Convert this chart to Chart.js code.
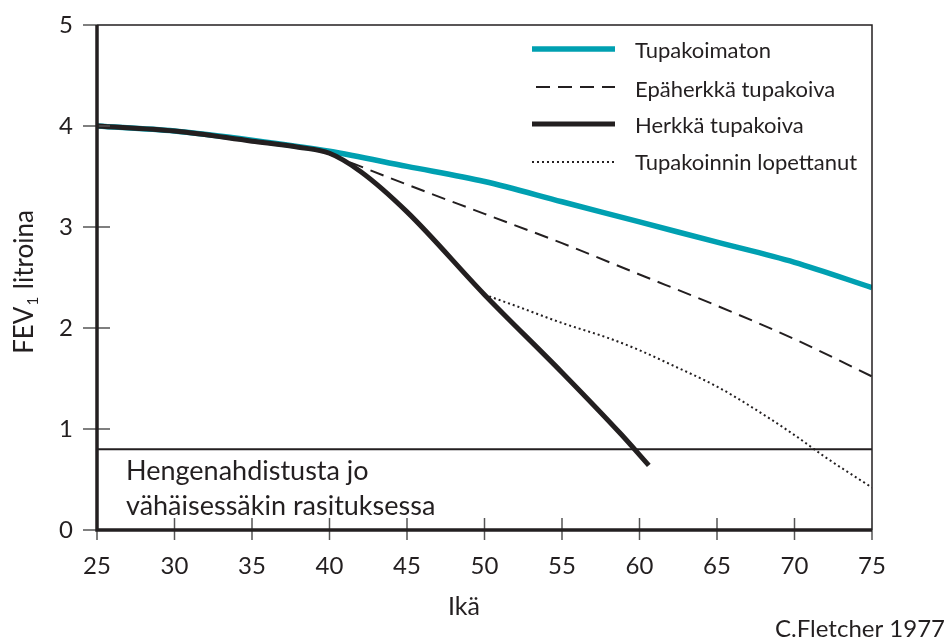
<!DOCTYPE html>
<html><head><meta charset="utf-8">
<script src="https://cdn.jsdelivr.net/npm/chart.js@4"></script>
<style>html,body{margin:0;padding:0;background:#fff}#c{display:block}</style>
</head><body>
<canvas id="c" width="950" height="644"></canvas>
<script>
const seriesNames = ["Tupakoimaton","Epäherkkä tupakoiva","Herkkä tupakoiva","Tupakoinnin lopettanut"];
const agesNever = [25,30,35,40,45,50,55,60,65,70,75];
const fevNever  = [4.0,3.95,3.86,3.75,3.6,3.45,3.25,3.05,2.85,2.65,2.4];
const agesInsens = [40,45,50,55,60,65,70,75];
const fevInsens  = [3.72,3.42,3.13,2.84,2.53,2.22,1.89,1.52];
const agesSens = [25,30,35,38,40,42,45,50,55,58.8,60.6];
const fevSens  = [4.0,3.95,3.85,3.79,3.73,3.55,3.15,2.33,1.56,0.95,0.64];
const agesQuit = [50,52,55,58,60,62,65,67,70,72,75];
const fevQuit  = [2.33,2.22,2.05,1.9,1.78,1.64,1.42,1.24,0.94,0.72,0.42];
const threshold = 0.8;
const xTicks = [25,30,35,40,45,50,55,60,65,70,75];
const yTicks = [0,1,2,3,4,5];
const thresholdText = ["Hengenahdistusta jo","vähäisessäkin rasituksessa"];
const xTitle = "Ikä", yTitleParts = ["FEV","1"," litroina"], credit = "C.Fletcher 1977";

const INK = "#231f20", TEAL = "#00a0b1";
const FONT = "Lato, 'Open Sans', sans-serif";
const pts = (xs, ys) => xs.map((x,i)=>({x, y: ys[i]}));

const styles = [
  {color:TEAL, width:5.5, dash:[]},
  {color:INK, width:2, dash:[14,8]},
  {color:INK, width:5, dash:[]},
  {color:INK, width:2, dash:[2,3]}
];

const overlay = {
  id:'overlay',
  afterDatasetsDraw(chart){
    const {ctx, chartArea:a, scales:{x, y}} = chart;
    ctx.save();
    ctx.strokeStyle = INK; ctx.lineWidth = 1.5;
    ctx.beginPath(); ctx.moveTo(a.left, a.top); ctx.lineTo(a.right, a.top); ctx.lineTo(a.right, a.bottom); ctx.stroke();
    ctx.strokeStyle = "#555"; ctx.lineWidth = 1.5;
    yTicks.forEach(v=>{ const py = y.getPixelForValue(v); ctx.beginPath(); ctx.moveTo(a.left-14, py); ctx.lineTo(a.left+13, py); ctx.stroke(); });
    xTicks.forEach(v=>{ const px = x.getPixelForValue(v); ctx.beginPath(); ctx.moveTo(px, a.bottom-12); ctx.lineTo(px, a.bottom+10); ctx.stroke(); });
    ctx.strokeStyle = INK; ctx.lineWidth = 3.5;
    ctx.beginPath(); ctx.moveTo(a.left, a.top); ctx.lineTo(a.left, a.bottom); ctx.lineTo(a.right, a.bottom); ctx.stroke();
    // threshold text
    ctx.fillStyle = INK; ctx.font = "27px " + FONT; ctx.textAlign = "left"; ctx.textBaseline = "alphabetic";
    const tx = x.getPixelForValue(25) + 29;
    const ty = y.getPixelForValue(threshold);
    ctx.fillText(thresholdText[0], tx, ty + 31);
    ctx.fillText(thresholdText[1], tx, ty + 66);
    // legend
    ctx.font = "22px " + FONT;
    const lb = [58, 97, 133, 170];
    const ls = [49, 87, 124, 162];
    seriesNames.forEach((n,i)=>{
      const s = styles[i];
      ctx.strokeStyle = s.color; ctx.lineWidth = s.width; ctx.setLineDash(s.dash);
      ctx.beginPath(); ctx.moveTo(i===1?536:532, ls[i]); ctx.lineTo(615, ls[i]); ctx.stroke();
      ctx.setLineDash([]);
      ctx.fillStyle = INK; ctx.fillText(n, 635, lb[i]);
    });
    // titles
    ctx.font = "25px " + FONT; ctx.textAlign = "center";
    ctx.fillText(xTitle, 464, 615);
    ctx.save(); ctx.translate(33, 282); ctx.rotate(-Math.PI/2);
    ctx.textAlign = "left";
    const f1 = "26px " + FONT, f2 = "15px " + FONT;
    ctx.font = f1; const w0 = ctx.measureText(yTitleParts[0]).width, w2 = ctx.measureText(yTitleParts[2]).width;
    ctx.font = f2; const w1 = ctx.measureText(yTitleParts[1]).width + 2;
    let sx = -(w0 + w1 + w2)/2;
    ctx.font = f1; ctx.fillText(yTitleParts[0], sx, 0); sx += w0;
    ctx.font = f2; ctx.fillText(yTitleParts[1], sx + 1, 5); sx += w1;
    ctx.font = f1; ctx.fillText(yTitleParts[2], sx, 0);
    ctx.restore();
    ctx.font = "24px " + FONT; ctx.textAlign = "right";
    ctx.fillText(credit, 945, 637);
    ctx.restore();
  }
};

const ds = [
  {label:seriesNames[0], data:pts(agesNever,fevNever), order:4},
  {label:seriesNames[1], data:pts(agesInsens,fevInsens), order:3},
  {label:seriesNames[2], data:pts(agesSens,fevSens), order:1},
  {label:seriesNames[3], data:pts(agesQuit,fevQuit), order:2}
].map((d,i)=>Object.assign(d,{
  borderColor:styles[i].color, borderWidth:styles[i].width, borderDash:styles[i].dash,
  pointRadius:0, fill:false, cubicInterpolationMode:'monotone', borderCapStyle:'butt'
}));
ds.push({label:'raja', data:[{x:25,y:threshold},{x:75,y:threshold}], borderColor:INK, borderWidth:2, pointRadius:0, order:5});

new Chart(document.getElementById('c'), {
  type:'line',
  data:{datasets:ds},
  options:{
    responsive:false, animation:false, devicePixelRatio:1,
    layout:{padding:{left:0, top:25, right:78, bottom:0}},
    plugins:{legend:{display:false}, tooltip:{enabled:false}},
    scales:{
      x:{type:'linear', min:25, max:75, grid:{display:false}, border:{display:false},
         afterBuildTicks(s){ s.ticks = xTicks.map(v=>({value:v})); },
         afterFit(s){ s.height = 114; s.paddingLeft = 0; s.paddingRight = 0; },
         ticks:{font:{size:24, family:FONT}, color:INK, padding:14, maxRotation:0}},
      y:{min:0, max:5, grid:{display:false}, border:{display:false},
         afterBuildTicks(s){ s.ticks = yTicks.map(v=>({value:v})); },
         afterFit(s){ s.width = 97; s.paddingTop = 0; s.paddingBottom = 0; },
         ticks:{font:{size:24, family:FONT}, color:INK, padding:16}}
    }
  },
  plugins:[overlay]
});
</script>
</body></html>
